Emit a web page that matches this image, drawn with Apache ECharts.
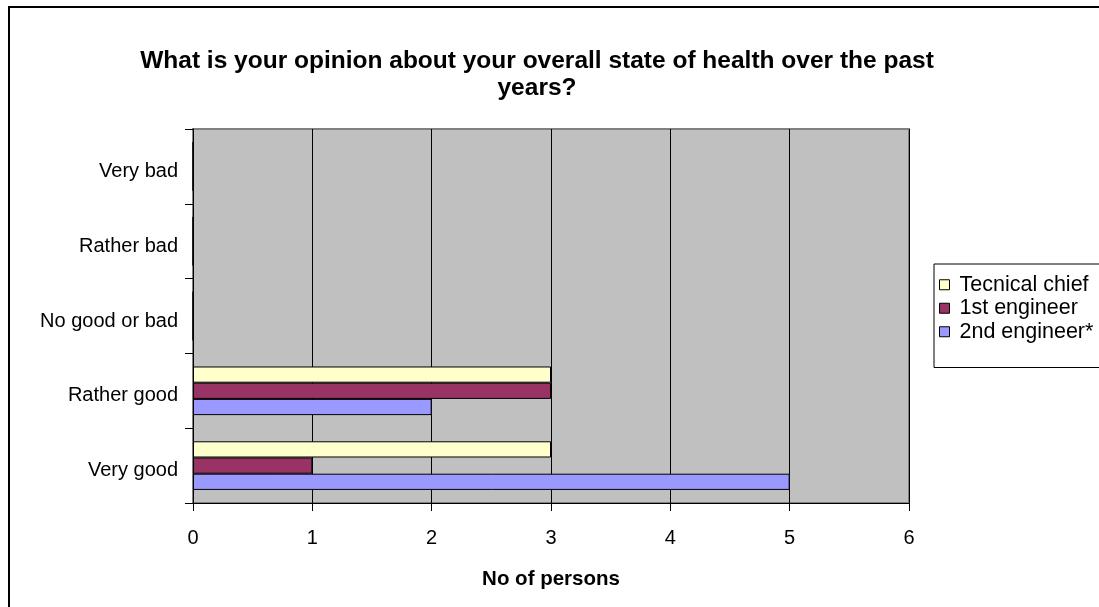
<!DOCTYPE html>
<html>
<head>
<meta charset="UTF-8">
<title>health opinion</title>
<script src="https://cdn.jsdelivr.net/npm/echarts@6/dist/echarts.min.js"></script>
<style>
  html, body { margin: 0; padding: 0; background: #fff; }
  #chart { width: 1099px; height: 607px; }
</style>
</head>
<body>
<div id="chart"></div>
<script type="text/javascript">
  // data
  var categories = ['Very good', 'Rather good', 'No good or bad', 'Rather bad', 'Very bad'];
  var seriesNames = ['Tecnical chief', '1st engineer', '2nd engineer*'];
  var tecnicalChief = [3, 3, 0, 0, 0];
  var firstEngineer = [1, 3, 0, 0, 0];
  var secondEngineer = [5, 2, 0, 0, 0];
  var xTicks = [0, 1, 2, 3, 4, 5, 6];

  var colors = ['#FFFFCC', '#993366', '#9999FF'];
  var values = [tecnicalChief, firstEngineer, secondEngineer];

  var series = [];
  for (var i = 0; i < seriesNames.length; i++) {
    series.push({
      name: seriesNames[i],
      type: 'bar',
      data: values[i],
      barGap: '0%',
      barCategoryGap: '35%',
      itemStyle: { color: colors[i], borderColor: '#000', borderWidth: 1 }
    });
  }

  var myChart = echarts.init(document.getElementById('chart'));
  var option = {
    animation: false,
    textStyle: { fontFamily: 'Liberation Sans, Arial, sans-serif' },
    title: {
      text: 'What is your opinion about your overall state of health over the past\nyears?',
      left: 532,
      top: 43,
      textAlign: 'center',
      textStyle: { fontSize: 24.5, fontWeight: 'bold', color: '#000', lineHeight: 27 }
    },
    graphic: [{
      type: 'rect',
      shape: { x: 9, y: 7, width: 1200, height: 700 },
      style: { fill: 'none', stroke: '#000', lineWidth: 2 },
      silent: true
    }],
    legend: {
      data: seriesNames,
      orient: 'vertical',
      left: 934,
      top: 264,
      width: 200,
      padding: [9, 60, 24, 5],
      itemGap: 0,
      itemWidth: 10,
      itemHeight: 10,
      icon: 'rect',
      borderColor: '#000',
      borderWidth: 1,
      backgroundColor: '#fff',
      itemStyle: { borderColor: '#000', borderWidth: 1 },
      textStyle: { fontSize: 21.5, lineHeight: 23.5, color: '#000', padding: [0, 0, 0, 5] }
    },
    grid: {
      left: 193,
      right: 190,
      top: 129,
      bottom: 104,
      show: true,
      backgroundColor: '#C0C0C0',
      borderColor: '#808080',
      borderWidth: 2
    },
    xAxis: {
      type: 'value',
      min: 0,
      max: 6,
      interval: 1,
      name: 'No of persons',
      nameLocation: 'middle',
      nameGap: 66,
      nameTextStyle: { fontSize: 20.5, fontWeight: 'bold', color: '#000' },
      axisLine: { show: true, lineStyle: { color: '#000', width: 1 } },
      axisTick: { show: true, length: 8, lineStyle: { color: '#000' } },
      axisLabel: {
        fontSize: 20, color: '#000', margin: 25,
        formatter: function (v) { return xTicks.indexOf(v) >= 0 ? String(v) : ''; }
      },
      splitLine: { show: true, lineStyle: { color: '#000', width: 1 } }
    },
    yAxis: {
      type: 'category',
      data: categories,
      axisLine: { show: true, lineStyle: { color: '#000', width: 1 } },
      axisTick: { show: true, length: 8, lineStyle: { color: '#000' } },
      axisLabel: { fontSize: 20, color: '#000', margin: 15, verticalAlign: 'top', lineHeight: 10 },
      splitLine: { show: false }
    },
    series: series
  };
  myChart.setOption(option);
</script>
</body>
</html>
